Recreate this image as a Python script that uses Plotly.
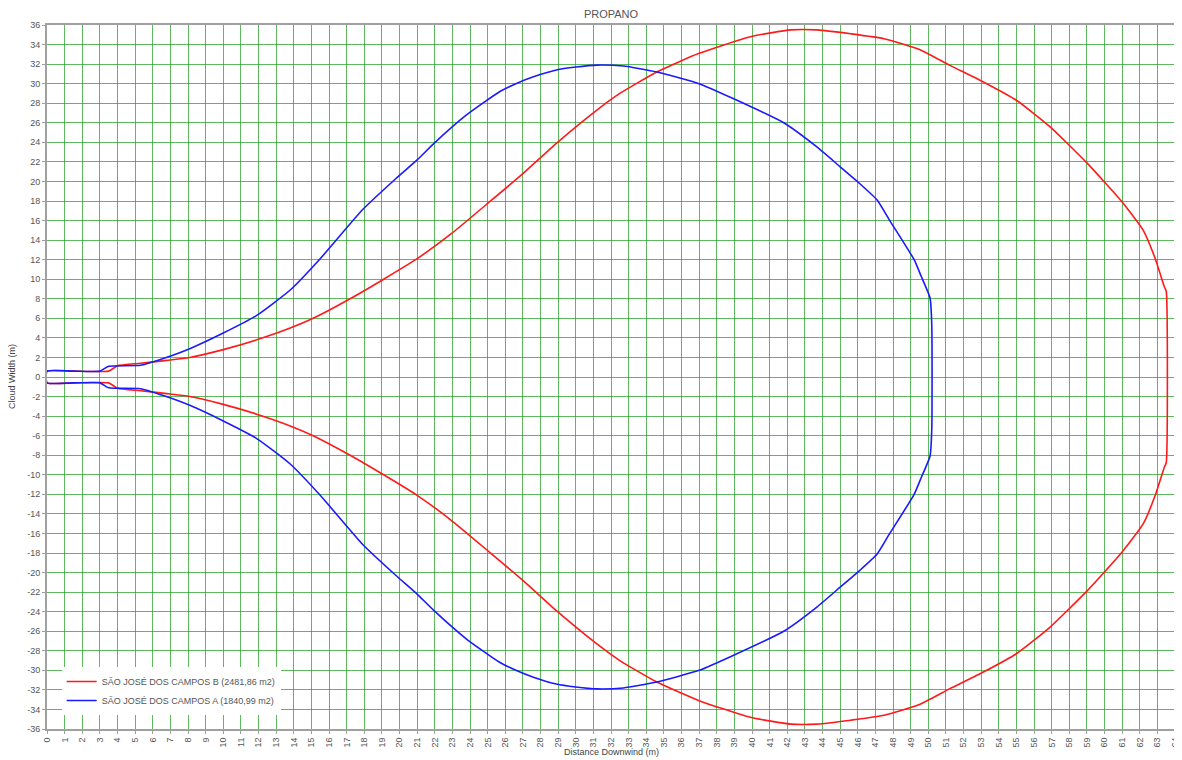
import plotly.graph_objects as go

# Upper half of each cloud footprint (x in m downwind, y = half width in m)
b_x = [0, 1.5, 3.5, 4.0, 5.3, 6.8, 8.1, 10.0, 11.9, 13.8, 15.1, 17.2, 19.1, 21.0, 22.9, 25.1,
       27.0, 28.9, 31.2, 32.5, 34.6, 37.0, 39.9, 42.2, 43.7, 45.6, 47.5, 49.5, 51.2, 53.1,
       55.0, 56.9, 59.0, 61.0, 62.2, 62.9, 63.4, 63.5]
b_y = [0.6, 0.6, 0.6, 1.15, 1.4, 1.7, 2.0, 2.8, 3.8, 5.0, 6.0, 8.0, 10.0, 12.1, 14.6, 17.9,
       20.8, 23.9, 27.3, 29.0, 31.2, 33.1, 34.8, 35.5, 35.5, 35.1, 34.6, 33.5, 31.9, 30.2,
       28.3, 25.6, 21.9, 17.9, 15.0, 12.0, 9.2, 8.8]

a_x = [0, 1.5, 3.0, 3.5, 5.3, 6.6, 8.1, 10.0, 11.9, 13.8, 15.5, 17.9, 19.8, 21.0, 21.9, 23.8,
       25.7, 26.6, 27.6, 28.9, 30.0, 31.2, 32.7, 34.6, 37.0, 38.9, 41.8, 43.7, 45.0,
       46.1, 47.1, 47.8, 49.2, 49.6, 50.1, 50.2]
a_y = [0.6, 0.6, 0.6, 1.1, 1.2, 1.9, 2.9, 4.5, 6.3, 8.9, 12.1, 17.1, 20.3, 22.2, 23.8, 26.8,
       29.2, 30.0, 30.7, 31.4, 31.7, 31.9, 31.8, 31.2, 30.0, 28.5, 26.0, 23.5, 21.5,
       19.8, 18.1, 16.05, 12.0, 10.3, 8.1, 5.3]

name_b = "SÃO JOSÉ DOS CAMPOS B (2481,86 m2)"
name_a = "SÃO JOSÉ DOS CAMPOS A (1840,99 m2)"

x_ticks = list(range(0, 65))
y_ticks = list(range(-36, 37, 2))


def closed(xs, ys):
    # upper edge left->right, then the (symmetric) lower edge right->left, closed
    cx = xs + xs[::-1] + [xs[0]]
    cy = ys + [-v for v in ys[::-1]] + [ys[0]]
    return cx, cy


bx, by = closed(b_x, b_y)
ax_, ay_ = closed(a_x, a_y)

fig = go.Figure()
fig.add_trace(go.Scatter(x=bx, y=by, mode="lines", name=name_b,
                         line=dict(color="#ff1a1a", width=1.6, shape="spline", smoothing=0.5)))
fig.add_trace(go.Scatter(x=ax_, y=ay_, mode="lines", name=name_a,
                         line=dict(color="#1a1aff", width=1.6, shape="spline", smoothing=0.5)))

# The page body has an 8px margin, so the figure is offset by (8, 8) in the window.
W, H = 1174, 752
grid = "rgba(40,160,40,0.75)"
fig.update_layout(
    width=W, height=H,
    margin=dict(l=39, r=7, t=17, b=31, autoexpand=False),
    paper_bgcolor="white", plot_bgcolor="white",
    font=dict(family="Liberation Sans, Arial, sans-serif", size=9, color="#444"),
    title=dict(text="PROPANO", x=(39 + 1167) / 2 / W, xanchor="center",
               y=1 - 6 / H, yanchor="middle",
               font=dict(size=11, color="#555")),
    showlegend=True,
    legend=dict(x=0.013, y=0.088, xanchor="left", yanchor="top",
                bgcolor="white", borderwidth=0,
                font=dict(size=9, color="#555"),
                itemwidth=30, tracegroupgap=0),
    xaxis=dict(range=[0, 64], tickmode="array", tickvals=x_ticks,
               ticktext=[str(v) for v in x_ticks], tickangle=-90, automargin=False,
               showgrid=True, gridcolor=grid, gridwidth=1,
               zeroline=False, showline=True, linecolor="#a0a0a0", linewidth=2,
               mirror=True, ticks="outside", ticklen=3, tickcolor="#a0a0a0",
               tickfont=dict(size=9, color="#555")),
    yaxis=dict(range=[-36, 36], tickmode="array", tickvals=y_ticks,
               ticktext=[str(v) for v in y_ticks], automargin=False,
               showgrid=True, gridcolor=grid, gridwidth=1,
               zeroline=False, showline=True, linecolor="#a0a0a0", linewidth=2,
               mirror=True, ticks="outside", ticklen=3, tickcolor="#a0a0a0",
               tickfont=dict(size=9, color="#555")),
)

fig.add_annotation(text="Distance Downwind (m)", xref="paper", yref="paper",
                   x=0.5, y=-0.033, xanchor="center", yanchor="middle",
                   showarrow=False, font=dict(size=9, color="#444"))
fig.add_annotation(text="Cloud Width (m)", xref="paper", yref="paper",
                   x=-35 / 1128, y=0.5, xanchor="center", yanchor="middle",
                   textangle=-90, showarrow=False, font=dict(size=9, color="#444"))

fig.write_html("out.html")
